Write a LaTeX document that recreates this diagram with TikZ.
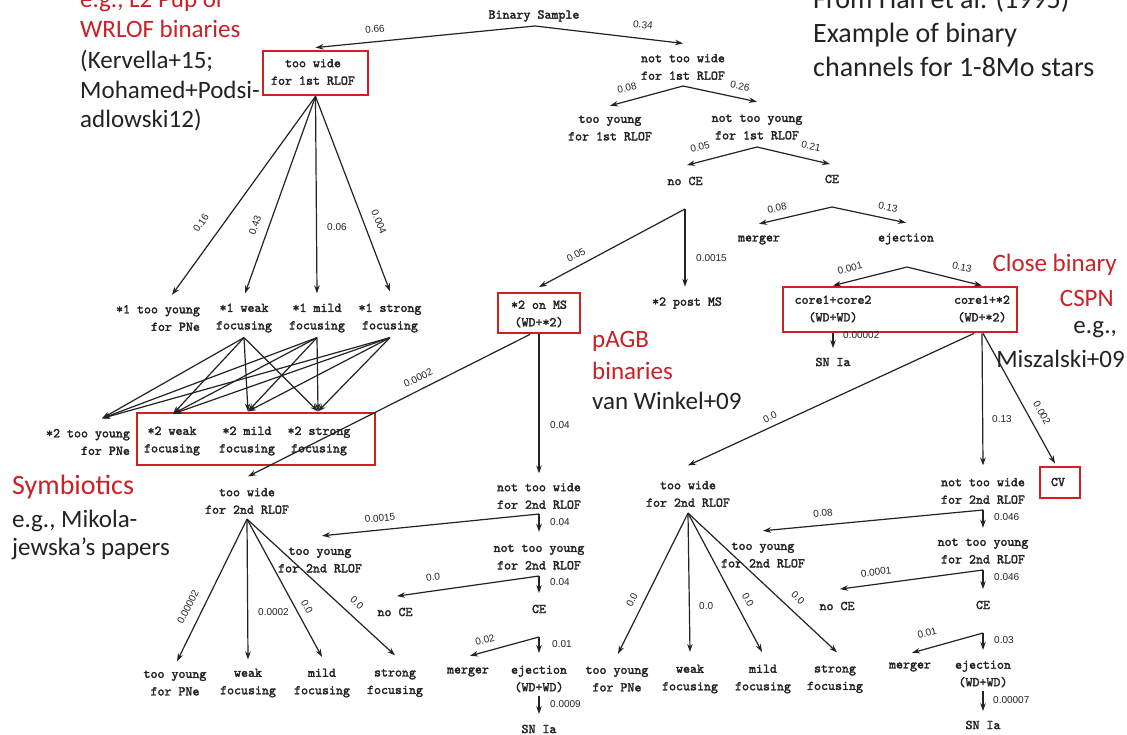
\documentclass[tikz,border=0pt]{standalone}
\usepackage{fontspec}
\setmainfont{Liberation Serif}
\newfontfamily\monof{lmmono10-regular.otf}[FakeBold=2.2]
\newfontfamily\labf{Liberation Sans}
\newfontfamily\calf{Carlito}
\usetikzlibrary{arrows.meta,fit}
\definecolor{boxred}{RGB}{208,32,36}
\definecolor{txtred}{RGB}{200,34,40}
\definecolor{ink}{RGB}{35,35,35}
\begin{document}
\begin{tikzpicture}[x=1pt,y=-1pt,
  t/.style={font=\monof\fontsize{13.3}{17.5}\selectfont, align=center, inner sep=0pt, text=ink},
  tr/.style={t, align=right},
  lb/.style={font=\labf\fontsize{10}{12}\selectfont, inner sep=0pt, text=ink},
  lbw/.style={lb, anchor=west},
  arr/.style={draw=ink, line width=1.2pt, -{Stealth[length=8pt,width=5.5pt]}},
  rbox/.style={draw=boxred, line width=2.8pt, inner sep=0pt},
  ann/.style={font=\calf\fontsize{25}{30}\selectfont, inner sep=0pt, anchor=base west, text=ink},
  annred/.style={ann, text=txtred},
  annbig/.style={ann, font=\calf\fontsize{28}{34}\selectfont},
  annE/.style={ann, anchor=base east},
  annEred/.style={annE, text=txtred}]
\fill[white] (0,0) rectangle (1127,735);
\path[use as bounding box] (0,0) rectangle (1127,735);

% ---------- annotations ----------
\node[annred] (an1) at (80,8) {e.g., L2 Pup or};
\node[annred] (an2) at (80,38) {WRLOF binaries};
\node[ann] (an3) at (80,69) {(Kervella+15;};
\node[ann] (an4) at (80,99) {Mohamed+Podsi-};
\node[ann] (an5) at (80,128) {adlowski12)};
\node[annbig] (an6) at (813,9) {From Han et al. (1995)};
\node[annbig] (an7) at (813,43) {Example of binary};
\node[annbig] (an8) at (813,77) {channels for 1-8Mo stars};
\node[annbig, text=txtred] (an9) at (12,494) {Symbiotics};
\node[ann] (an10) at (12,527) {e.g., Mikola-};
\node[ann] (an11) at (12,555) {jewska’s papers};
\node[annred] (an12) at (592,348) {pAGB};
\node[annred] (an13) at (592,379) {binaries};
\node[ann] (an14) at (592,409) {van Winkel+09};
\node[annEred] (an15) at (1117,272) {Close binary};
\node[annEred] (an16) at (1114,306) {CSPN};
\node[annE] (an17) at (1117,334) {e.g.,};
\node[annE] (an18) at (1125,367) {Miszalski+09};

% ---------- tree nodes ----------
\node[t] (bs) at (534,16) {Binary Sample};
\node[t] (tw1) at (313,72) {too wide\\for 1st RLOF};
\node[rbox, fit={(263,51)(368,95)}] (tw1box) {};
\node[t] (nw1) at (683,67) {not too wide\\for 1st RLOF};
\node[t] (ty1) at (610,128) {too young\\for 1st RLOF};
\node[t] (nty1) at (757,127) {not too young\\for 1st RLOF};
\node[t] (noce1) at (685,181) {no CE};
\node[t] (ce1) at (832,179) {CE};
\node[t] (mg1) at (759,240) {merger};
\node[t] (ej1) at (906,239) {ejection};
\node[t] (cc) at (833,309) {core1+core2\\(WD+WD)};
\node[t] (c2) at (982,309) {core1+*2\\(WD+*2)};
\node[rbox, fit={(783,287)(1017,332)}] (ccbox) {};
\node[t] (sn1) at (833,362) {SN Ia};

\node[tr] (s1ty) at (158,318) {*1 too young\\for PNe};
\node[t] (s1w) at (244,318) {*1 weak\\focusing};
\node[t] (s1m) at (317,318) {*1 mild\\focusing};
\node[t] (s1s) at (390,318) {*1 strong\\focusing};
\node[tr] (s2ty) at (88,442) {*2 too young\\for PNe};
\node[t] (s2w) at (172,441) {*2 weak\\focusing};
\node[t] (s2m) at (247,441) {*2 mild\\focusing};
\node[t] (s2s) at (319,441) {*2 strong\\focusing};
\node[rbox, fit={(137,413)(375,465)}] (s2box) {};

\node[t] (onms) at (539,314) {*2 on MS\\(WD+*2)};
\node[rbox, fit={(498,293)(580,333)}] (onmsbox) {};
\node[t] (pms) at (687,303) {*2 post MS};

% left lower tree
\node[t] (tw2L) at (247,501) {too wide\\for 2nd RLOF};
\node[t] (nw2L) at (539,496) {not too wide\\for 2nd RLOF};
\node[t] (ty2L) at (320,560) {too young\\for 2nd RLOF};
\node[t] (nty2L) at (539,557) {not too young\\for 2nd RLOF};
\node[t] (noce2L) at (395,612) {no CE};
\node[t] (ce2L) at (539,609) {CE};
\node[t] (mg2L) at (468,672) {merger};
\node[t] (ej2L) at (539,679) {ejection\\(WD+WD)};
\node[t] (sn2L) at (539,729) {SN Ia};
\node[t] (tyPL) at (175,683) {too young\\for PNe};
\node[t] (wkL) at (248,683) {weak\\focusing};
\node[t] (mdL) at (322,683) {mild\\focusing};
\node[t] (stL) at (395,683) {strong\\focusing};

% right lower tree
\node[t] (tw2R) at (688,494) {too wide\\for 2nd RLOF};
\node[t] (nw2R) at (983,491) {not too wide\\for 2nd RLOF};
\node[t] (cv) at (1058,482) {CV};
\node[rbox, fit={(1040,467)(1080,498)}] (cvbox) {};
\node[t] (ty2R) at (763,555) {too young\\for 2nd RLOF};
\node[t] (nty2R) at (983,551) {not too young\\for 2nd RLOF};
\node[t] (noce2R) at (837,606) {no CE};
\node[t] (ce2R) at (983,605) {CE};
\node[t] (mg2R) at (910,667) {merger};
\node[t] (ej2R) at (983,674) {ejection\\(WD+WD)};
\node[t] (sn2R) at (983,725) {SN Ia};
\node[t] (tyPR) at (617,679) {too young\\for PNe};
\node[t] (wkR) at (690,679) {weak\\focusing};
\node[t] (mdR) at (763,679) {mild\\focusing};
\node[t] (stR) at (835,679) {strong\\focusing};

% ---------- split points ----------
\coordinate (a0) at (535,26);
\coordinate (a1) at (683,86);
\coordinate (a2) at (757,147);
\coordinate (a3) at (832,207);
\coordinate (a4) at (907,267);
\coordinate (a5) at (685,209);
\coordinate (a6) at (539,514);
\coordinate (a7) at (539,576);
\coordinate (a8) at (539,637);
\coordinate (a9) at (983,510);
\coordinate (a10) at (983,570);
\coordinate (a11) at (983,633);

% ---------- connectors ----------
\draw[arr] (a0) -- ([yshift=2pt]tw1box.north);
\draw[arr] (a0) -- ([yshift=10.5pt]nw1.north);
\draw[arr] (a1) -- ([yshift=9.5pt]ty1.north);
\draw[arr] (a1) -- ([yshift=12.5pt]nty1.north);
\draw[arr] (a2) -- ([xshift=2pt,yshift=11.5pt]noce1.north);
\draw[arr] (a2) -- ([xshift=-2pt,yshift=10.5pt]ce1.north);
\draw[arr] (a3) -- ([yshift=11.5pt]mg1.north);
\draw[arr] (a3) -- ([yshift=10.5pt]ej1.north);
\draw[arr] (a4) -- (cc |- ccbox.north);
\draw[arr] (a4) -- (c2 |- ccbox.north);
\draw[arr] (cc |- ccbox.south) -- ([yshift=9.5pt]sn1.north);

\draw[arr] (tw1box.south) -- ([xshift=14pt,yshift=10pt]s1ty.north);
\draw[arr] (tw1box.south) -- ([xshift=1pt,yshift=10pt]s1w.north);
\draw[arr] (tw1box.south) -- ([yshift=10pt]s1m.north);
\draw[arr] (tw1box.south) -- ([yshift=12pt]s1s.north);

\foreach \s in {s1w,s1m,s1s}{
  \draw[arr] ([yshift=-5pt]\s.south) -- ([xshift=14pt,yshift=10.5pt]s2ty.north);
  \draw[arr] ([yshift=-5pt]\s.south) -- ([xshift=1pt,yshift=12.5pt]s2w.north);
  \draw[arr] ([yshift=-5pt]\s.south) -- ([xshift=1pt,yshift=15pt]s2m.north);
  \draw[arr] ([yshift=-5pt]\s.south) -- ([xshift=-1pt,yshift=15pt]s2s.north);
}

\draw[arr] (a5) -- ([yshift=4.5pt]onmsbox.north);
\draw[arr] (a5) -- ([xshift=-2pt,yshift=10.5pt]pms.north);
\draw[arr] ([xshift=-9pt]onmsbox.south) -- ([xshift=1pt,yshift=11.5pt]tw2L.north);
\draw[arr] (onmsbox.south) -- ([yshift=9.5pt]nw2L.north);

\draw[arr] ([yshift=-5pt]tw2L.south) -- ([xshift=2pt,yshift=9pt]tyPL.north);
\draw[arr] ([yshift=-5pt]tw2L.south) -- ([yshift=9pt]wkL.north);
\draw[arr] ([yshift=-5pt]tw2L.south) -- ([yshift=11.5pt]mdL.north);
\draw[arr] ([yshift=-5pt]tw2L.south) -- ([yshift=13.5pt]stL.north);

\draw[arr] (a6) -- ([xshift=2pt,yshift=11.5pt]ty2L.north);
\draw[arr] (a6) -- ([yshift=12.5pt]nty2L.north);
\draw[arr] (a7) -- ([xshift=2pt,yshift=11.5pt]noce2L.north);
\draw[arr] (a7) -- ([yshift=11.5pt]ce2L.north);
\draw[arr] (a8) -- ([xshift=2pt,yshift=11.5pt]mg2L.north);
\draw[arr] (a8) -- ([yshift=12.5pt]ej2L.north);
\draw[arr] ([yshift=-3pt]ej2L.south) -- ([yshift=10.5pt]sn2L.north);

\draw[arr] ([xshift=-8pt]c2 |- ccbox.south) -- ([yshift=15.5pt]tw2R.north);
\draw[arr] (c2 |- ccbox.south) -- ([yshift=12.5pt]nw2R.north);
\draw[arr] ([xshift=1pt]c2 |- ccbox.south) -- ([xshift=-5pt,yshift=2pt]cvbox.north);

\draw[arr] ([yshift=-6pt]tw2R.south) -- ([xshift=1pt,yshift=12.5pt]tyPR.north);
\draw[arr] ([yshift=-6pt]tw2R.south) -- ([yshift=12.5pt]wkR.north);
\draw[arr] ([yshift=-6pt]tw2R.south) -- ([xshift=-1pt,yshift=12.5pt]mdR.north);
\draw[arr] ([yshift=-6pt]tw2R.south) -- ([xshift=2pt,yshift=12.5pt]stR.north);

\draw[arr] (a9) -- ([yshift=11.5pt]ty2R.north);
\draw[arr] (a9) -- ([yshift=10.5pt]nty2R.north);
\draw[arr] (a10) -- ([xshift=3pt,yshift=12.5pt]noce2R.north);
\draw[arr] (a10) -- ([yshift=11.5pt]ce2R.north);
\draw[arr] (a11) -- ([xshift=2pt,yshift=9.5pt]mg2R.north);
\draw[arr] (a11) -- ([yshift=10.5pt]ej2R.north);
\draw[arr] ([yshift=-3pt]ej2R.south) -- ([yshift=9.5pt]sn2R.north);

% ---------- labels ----------
\node[lb, rotate=5.5] (l1) at (375,29) {0.66};
\node[lb, rotate=-6] (l2) at (643,25) {0.34};
\node[lb, rotate=14] (l3) at (627,88) {0.08};
\node[lb, rotate=-11] (l4) at (740,86) {0.26};
\node[lb, rotate=13.5] (l5) at (700,147) {0.05};
\node[lb, rotate=-12] (l6) at (811,146) {0.21};
\node[lb, rotate=12.5] (l7) at (777,208) {0.08};
\node[lb, rotate=-12] (l8) at (888,207) {0.13};
\node[lb, rotate=14] (l9) at (850,268) {0.001};
\node[lb, rotate=-12] (l10) at (962,267) {0.13};
\node[lbw] (l11) at (843,335) {0.00002};
\node[lb, rotate=55] (l12) at (201,223) {0.16};
\node[lb, rotate=71] (l13) at (255,225) {0.43};
\node[lbw] (l14) at (327,227) {0.06};
\node[lb, rotate=-68] (l15) at (379,222) {0.004};
\node[lb, rotate=28] (l16) at (576,255) {0.05};
\node[lbw] (l17) at (696,258) {0.0015};
\node[lb, rotate=26] (l18) at (418,378) {0.0002};
\node[lbw] (l19) at (550,425) {0.04};
\node[lb, rotate=25] (l20) at (770,417) {0.0};
\node[lbw] (l21) at (992,419) {0.13};
\node[lb, rotate=-61] (l22) at (1042,413) {0.002};
\node[lb, rotate=63] (l23) at (188,607) {0.00002};
\node[lbw] (l24) at (258,612) {0.0002};
\node[lb, rotate=-61] (l25) at (307,607) {0.0};
\node[lb, rotate=-42] (l26) at (357,603) {0.0};
\node[lb, rotate=5] (l27) at (380,518) {0.0015};
\node[lbw] (l28) at (550,522) {0.04};
\node[lb, rotate=7.5] (l29) at (433,577) {0.0};
\node[lbw] (l30) at (550,582) {0.04};
\node[lb, rotate=14.5] (l31) at (485,640) {0.02};
\node[lbw] (l32) at (552,644) {0.01};
\node[lbw] (l33) at (550,704) {0.0009};
\node[lb, rotate=63] (l34) at (632,600) {0.0};
\node[lbw] (l35) at (699,606) {0.0};
\node[lb, rotate=-62] (l36) at (748,600) {0.0};
\node[lb, rotate=-43] (l37) at (798,598) {0.0};
\node[lb, rotate=5] (l38) at (823,513) {0.08};
\node[lbw] (l39) at (994,517) {0.046};
\node[lb, rotate=7] (l40) at (876,572) {0.0001};
\node[lbw] (l41) at (994,577) {0.046};
\node[lb, rotate=15] (l42) at (927,633) {0.01};
\node[lbw] (l43) at (994,640) {0.03};
\node[lbw] (l44) at (993,700) {0.00007};
\end{tikzpicture}
\end{document}
